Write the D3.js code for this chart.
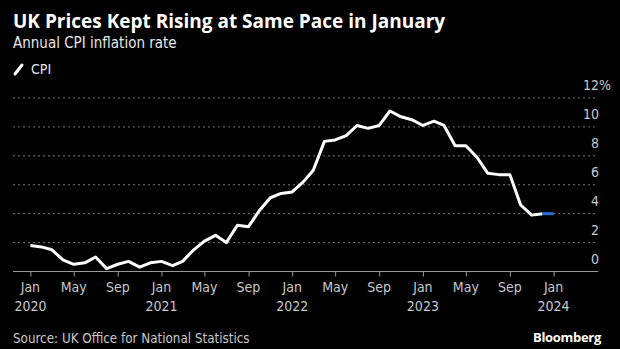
<!DOCTYPE html>
<html>
<head>
<meta charset="utf-8">
<script src="https://cdn.jsdelivr.net/npm/d3@7"></script>
<style>
  html, body { margin: 0; padding: 0; background: #000; }
  svg { display: block; }
  .narrow { font-family: "Liberation Sans Narrow", "DejaVu Sans Condensed", "Roboto", sans-serif; }
</style>
</head>
<body>
<div id="chart"></div>
<script>
// monthly CPI, Jan 2020 .. Jan 2024
const months = d3.timeMonths(new Date(2020, 0, 1), new Date(2024, 1, 1));
const cpi = [
  1.8, 1.7, 1.5, 0.8, 0.5, 0.6, 1.0, 0.2, 0.5, 0.7, 0.3, 0.6,
  0.7, 0.4, 0.7, 1.5, 2.1, 2.5, 2.0, 3.2, 3.1, 4.2, 5.1, 5.4,
  5.5, 6.2, 7.0, 9.0, 9.1, 9.4, 10.1, 9.9, 10.1, 11.1, 10.7, 10.5,
  10.1, 10.4, 10.1, 8.7, 8.7, 7.9, 6.8, 6.7, 6.7, 4.6, 3.9, 4.0,
  4.0
];
const yTicks = [0, 2, 4, 6, 8, 10, 12];
const xTickMonths = d3.timeMonths(new Date(2020, 0, 1), new Date(2024, 1, 1), 4);

const width = 620, height = 349;
const data = months.map((d, i) => ({ date: d, value: cpi[i] }));

const x = d3.scaleTime()
  .domain([new Date(2020, 0, 1), new Date(2024, 0, 1)])
  .range([30.4, 553.6]);
const y = d3.scaleLinear().domain([0, 12]).range([271.5, 98]);

const svg = d3.select('#chart').append('svg')
  .attr('width', width)
  .attr('height', height);

svg.append('rect').attr('width', width).attr('height', height).attr('fill', '#000');

// titles
svg.append('text')
  .attr('x', 13).attr('y', 28)
  .attr('fill', '#fff')
  .style('font-family', '"Open Sans", "DejaVu Sans", sans-serif')
  .style('font-weight', 700)
  .style('font-size', '19px')
  .text('UK Prices Kept Rising at Same Pace in January');

svg.append('text')
  .attr('class', 'narrow')
  .attr('x', 13).attr('y', 48)
  .attr('fill', '#e6e6e6')
  .style('font-size', '15px')
  .text('Annual CPI inflation rate');

// legend
svg.append('line')
  .attr('x1', 15).attr('y1', 74).attr('x2', 22).attr('y2', 65)
  .attr('stroke', '#fff').attr('stroke-width', 3).attr('stroke-linecap', 'round');
svg.append('text')
  .attr('class', 'narrow')
  .attr('x', 31).attr('y', 74)
  .attr('fill', '#e6e6e6')
  .style('font-size', '14px')
  .text('CPI');

// gridlines + y labels
const grid = svg.append('g');
grid.selectAll('line')
  .data(yTicks.filter(d => d > 0))
  .enter().append('line')
  .attr('x1', 13).attr('x2', 597)
  .attr('y1', d => y(d)).attr('y2', d => y(d))
  .attr('stroke', '#777')
  .attr('stroke-width', 1)
  .attr('stroke-dasharray', '2,3');

grid.selectAll('text')
  .data(yTicks)
  .enter().append('text')
  .attr('class', 'narrow')
  .attr('x', 599)
  .attr('y', d => y(d) - 8)
  .attr('text-anchor', 'end')
  .attr('fill', '#c8c8c8')
  .style('font-size', '14px')
  .text(d => d);
grid.append('text')
  .attr('class', 'narrow')
  .attr('x', 599).attr('y', y(12) - 8)
  .attr('fill', '#c8c8c8')
  .style('font-size', '14px')
  .text('%');

// x axis
const xAxis = d3.axisBottom(x)
  .tickValues(xTickMonths)
  .tickSize(5)
  .tickFormat('');
const gx = svg.append('g')
  .attr('transform', `translate(0,${y(0)})`)
  .call(xAxis);
gx.select('.domain').remove();
gx.selectAll('.tick line').attr('stroke', '#999');
gx.append('line')
  .attr('x1', 13).attr('x2', 598)
  .attr('stroke', '#999').attr('stroke-width', 1);

const fmtMonth = d3.timeFormat('%b');
const labels = svg.append('g').attr('class', 'narrow')
  .selectAll('text')
  .data(xTickMonths)
  .enter().append('text')
  .attr('x', d => x(d))
  .attr('y', 292)
  .attr('text-anchor', 'middle')
  .attr('fill', '#c8c8c8')
  .style('font-size', '14px');
labels.append('tspan').text(d => fmtMonth(d));
labels.append('tspan')
  .attr('x', d => x(d))
  .attr('dy', 19)
  .text(d => d.getMonth() === 0 ? d.getFullYear() : '');

// CPI line, latest month highlighted
const line = d3.line()
  .x(d => x(d.date))
  .y(d => y(d.value));

svg.append('path')
  .datum(data.slice(0, data.length - 1))
  .attr('d', line)
  .attr('fill', 'none')
  .attr('stroke', '#fff')
  .attr('stroke-width', 3)
  .attr('stroke-linejoin', 'round');

svg.append('path')
  .datum(data.slice(data.length - 2))
  .attr('d', line)
  .attr('fill', 'none')
  .attr('stroke', '#1f6fe0')
  .attr('stroke-width', 3);

// footer
svg.append('text')
  .attr('class', 'narrow')
  .attr('x', 13).attr('y', 343)
  .attr('fill', '#c8c8c8')
  .style('font-size', '13.3px')
  .text('Source: UK Office for National Statistics');

svg.append('text')
  .attr('x', 601).attr('y', 342)
  .attr('text-anchor', 'end')
  .attr('fill', '#fff')
  .style('font-family', '"Open Sans", "DejaVu Sans", sans-serif')
  .style('font-weight', 700)
  .style('font-size', '13px')
  .style('letter-spacing', '-0.3px')
  .text('Bloomberg');
</script>
</body>
</html>
